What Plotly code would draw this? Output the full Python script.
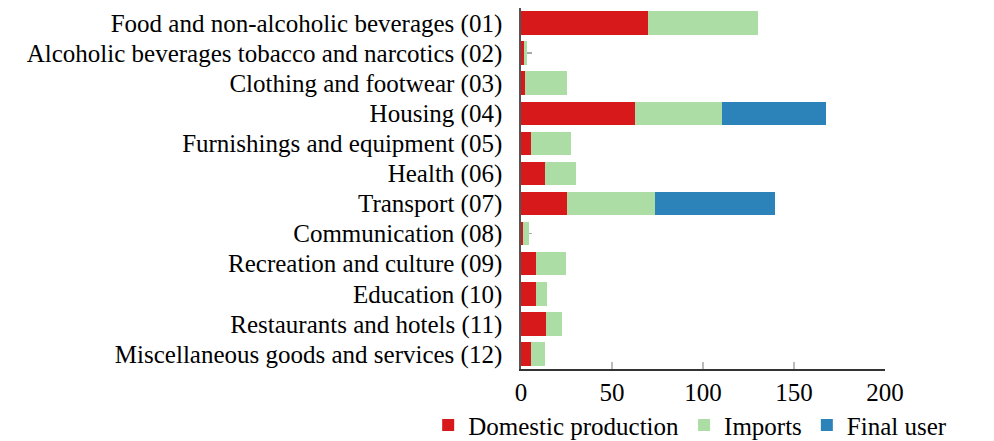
import plotly.graph_objects as go

categories = [
    "Food and non-alcoholic beverages (01)",
    "Alcoholic beverages tobacco and narcotics (02)",
    "Clothing and footwear (03)",
    "Housing (04)",
    "Furnishings and equipment (05)",
    "Health (06)",
    "Transport (07)",
    "Communication (08)",
    "Recreation and culture (09)",
    "Education (10)",
    "Restaurants and hotels (11)",
    "Miscellaneous goods and services (12)",
]
domestic = [70, 1.7, 2.0, 62.5, 5.5, 13.2, 25.1, 1.3, 8.2, 8.2, 13.6, 5.7]
imports = [60, 1.8, 23.1, 47.8, 22.1, 17.2, 48.4, 3.1, 16.5, 5.9, 8.9, 7.5]
final_user = [0, 0, 0, 57.3, 0, 0, 66.2, 0, 0, 0, 0, 0]
extra = [0, 2.4, 0, 0, 0, 0, 0, 1.5, 0, 0, 0, 0]

ticks = [0, 50, 100, 150, 200]

FONT = "Liberation Serif"
FS = 25

fig = go.Figure()
fig.add_trace(go.Bar(y=categories, x=domestic, orientation="h", name="Domestic production",
                     marker=dict(color="#d7191c", line=dict(width=0))))
fig.add_trace(go.Bar(y=categories, x=imports, orientation="h", name="Imports",
                     marker=dict(color="#abdda4", line=dict(width=0)),
                     error_x=dict(type="data", symmetric=False, array=extra,
                                  arrayminus=[0]*len(extra), color="#aaaaaa",
                                  thickness=1.5, width=0)))
fig.add_trace(go.Bar(y=categories, x=final_user, orientation="h", name="Final user",
                     marker=dict(color="#2b83ba", line=dict(width=0))))

# page body has an 8px default margin, so the figure is sized to fit the window
fig.update_layout(
    barmode="stack",
    bargap=0.22,
    width=986, height=433,
    margin=dict(l=513, r=109, t=0, b=72, autoexpand=False),
    plot_bgcolor="white", paper_bgcolor="white",
    font=dict(family=FONT, size=FS, color="black"),
    showlegend=True,
    legend=dict(orientation="h", x=-0.255, xanchor="left", y=-0.156, yanchor="middle",
                font=dict(family=FONT, size=FS), traceorder="normal",
                itemwidth=30, tracegroupgap=0, bgcolor="rgba(0,0,0,0)"),
)
fig.update_xaxes(range=[0, 200], tickmode="array", tickvals=ticks,
                 ticktext=[str(t) for t in ticks], automargin=False,
                 showgrid=False, zeroline=False, showline=True, linecolor="#333333",
                 linewidth=1.5, ticks="inside", ticklen=7, tickcolor="#bbbbbb",
                 tickwidth=1.5, tickfont=dict(size=FS))
fig.update_yaxes(autorange="reversed", tickmode="array", tickvals=categories,
                 ticktext=categories, automargin=False,
                 showgrid=False, zeroline=False, showline=True,
                 linecolor="#555555", linewidth=1.5, ticks="", ticklabelstandoff=12,
                 tickfont=dict(size=FS))

fig.write_html("out.html")
